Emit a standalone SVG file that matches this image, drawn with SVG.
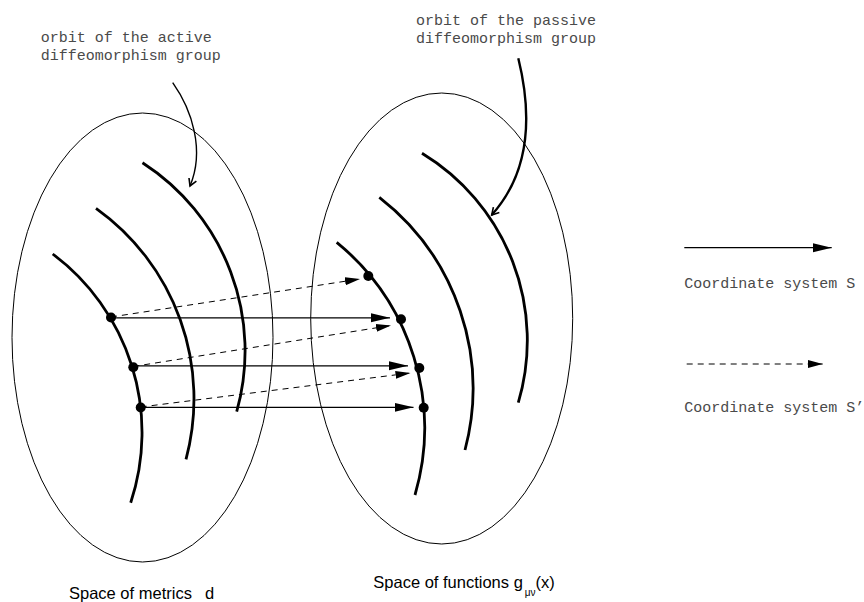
<svg xmlns="http://www.w3.org/2000/svg" width="864" height="602" viewBox="0 0 864 602">
<style>
.ell{fill:none;stroke:#000;stroke-width:1}
.orb{fill:none;stroke:#000;stroke-width:2.8}
.dot{fill:#000}
.sol{fill:none;stroke:#000;stroke-width:1.3}
.dsh{fill:none;stroke:#000;stroke-width:1;stroke-dasharray:6,5}
.mono{font-family:"Liberation Mono","Courier New",monospace;font-size:15px;fill:#4a4a4a}
.sans{font-family:"Liberation Sans",Arial,sans-serif;font-size:16.5px;fill:#000}
.ann{fill:none;stroke:#000}
</style>
<defs>
<marker id="ahS" markerWidth="20" markerHeight="10" refX="19" refY="5" orient="auto" markerUnits="userSpaceOnUse"><path d="M0,0.5 L19,5 L0,9.5 z" fill="#000"/></marker>
<marker id="ahD" markerWidth="16" markerHeight="9" refX="15" refY="4.5" orient="auto" markerUnits="userSpaceOnUse"><path d="M0,0.5 L15,4.5 L0,8.5 z" fill="#000"/></marker>
<marker id="ahO" markerWidth="10" markerHeight="10" refX="8" refY="5" orient="auto" markerUnits="userSpaceOnUse"><path d="M1,1 L8,5 L1,9" fill="none" stroke="#000" stroke-width="1.6"/></marker>
</defs>

<g id="space-metrics">
<ellipse class="ell" cx="142.5" cy="337.5" rx="130.5" ry="224.5"/>
<path class="orb" d="M52.7,254 A223,223 0 0 1 130.7,502.7"/>
<path class="orb" d="M96,208.3 A234,234 0 0 1 186,459.3"/>
<path class="orb" d="M142.5,162.7 A224,224 0 0 1 236.7,411.7"/>
<circle class="dot" cx="111" cy="317.5" r="5"/>
<circle class="dot" cx="133.3" cy="367.3" r="5"/>
<circle class="dot" cx="140.7" cy="407.5" r="5"/>
</g>

<g id="space-functions">
<ellipse class="ell" cx="441.7" cy="318.5" rx="131" ry="225.5"/>
<path class="orb" d="M336.7,242.3 A240,240 0 0 1 415,495"/>
<path class="orb" d="M379.3,197.3 A242,242 0 0 1 465,450"/>
<path class="orb" d="M422,153.3 A219,219 0 0 1 518.3,402.7"/>
<circle class="dot" cx="368.3" cy="276" r="5"/>
<circle class="dot" cx="401" cy="319.3" r="5"/>
<circle class="dot" cx="419.3" cy="368" r="5"/>
<circle class="dot" cx="423.7" cy="407.7" r="5"/>
</g>

<g id="connectors">
<line class="sol" x1="111" y1="317.8" x2="390" y2="317.8" marker-end="url(#ahS)"/>
<line class="sol" x1="133.3" y1="365.8" x2="408" y2="365.8" marker-end="url(#ahS)"/>
<line class="sol" x1="140.7" y1="407.3" x2="413.5" y2="407.3" marker-end="url(#ahS)"/>
<line class="dsh" x1="111" y1="317" x2="360" y2="279" marker-end="url(#ahD)"/>
<line class="dsh" x1="133.3" y1="366.5" x2="391" y2="325.5" marker-end="url(#ahD)"/>
<line class="dsh" x1="140.7" y1="407" x2="410.5" y2="373" marker-end="url(#ahD)"/>
<path class="ann" stroke-width="1.4" d="M172.7,82.7 C192,110 205,150 190,186" marker-end="url(#ahO)"/>
<path class="ann" stroke-width="2.4" d="M518.3,58.3 C531,110 532,170 491.7,215" marker-end="url(#ahO)"/>
</g>

<g id="legend">
<line class="sol" x1="684.3" y1="247.7" x2="831.7" y2="247.7" marker-end="url(#ahS)"/>
<text class="mono" x="684.3" y="288">Coordinate system S</text>
<line class="dsh" x1="686.7" y1="364" x2="822.7" y2="364" marker-end="url(#ahD)"/>
<text class="mono" x="684.3" y="411.5">Coordinate system S’</text>
</g>

<g id="labels">
<text class="mono" x="40.7" y="41.5">orbit of the active</text>
<text class="mono" x="40.7" y="59.5">diffeomorphism group</text>
<text class="mono" x="416" y="24.5">orbit of the passive</text>
<text class="mono" x="416" y="42.5">diffeomorphism group</text>
<text class="sans" x="69" y="599">Space of metrics</text>
<text class="sans" x="205" y="599">d</text>
<text class="sans" x="373.3" y="588.3">Space of functions g<tspan font-size="10" dx="2" dy="8">μν</tspan><tspan dy="-8">(x)</tspan></text>
</g>
</svg>
